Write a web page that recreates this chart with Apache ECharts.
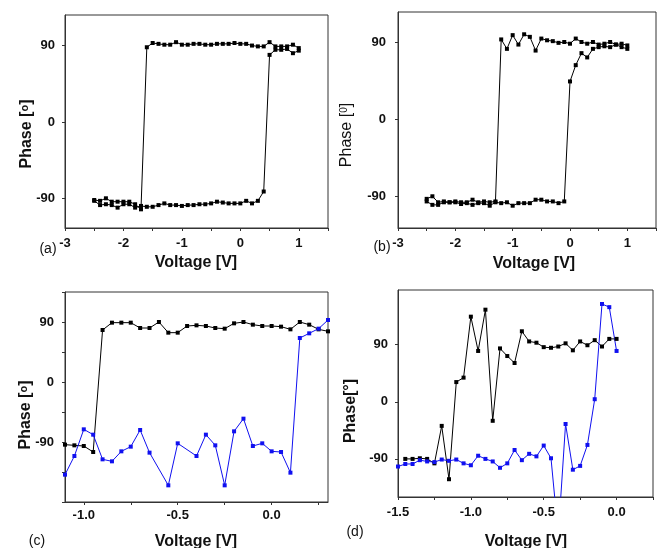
<!DOCTYPE html>
<html>
<head>
<meta charset="utf-8">
<script src="https://cdn.jsdelivr.net/npm/echarts@6/dist/echarts.min.js"></script>
<style>html,body{margin:0;padding:0;background:#fff;}#main{width:659px;height:548px;}</style>
</head>
<body>
<div id="main"></div>
<script>
// ---------- Panel (a) ----------
const voltageAscA = [-2.5,-2.4,-2.3,-2.2,-2.1,-2.0,-1.9,-1.8,-1.7,-1.6,-1.5,-1.4,-1.3,-1.2,-1.1,-1.0,-0.9,-0.8,-0.7,-0.6,-0.5,-0.4,-0.3,-0.2,-0.1,0.0,0.1,0.2,0.3,0.4,0.5,0.6,0.7,0.8,0.9,1.0];
const phaseAscA = [-93,-98,-97,-98,-101,-97,-97,-101,-99,-100,-100,-98,-96,-98,-98,-99,-98,-98,-97,-97,-96,-94,-95,-96,-96,-96,-93,-96,-93,-82,79,85,85,86,81,84];
const voltageDescA = [1.0,0.9,0.8,0.7,0.6,0.5,0.4,0.3,0.2,0.1,0.0,-0.1,-0.2,-0.3,-0.4,-0.5,-0.6,-0.7,-0.8,-0.9,-1.0,-1.1,-1.2,-1.3,-1.4,-1.5,-1.6,-1.7,-1.8,-1.9,-2.0,-2.1,-2.2,-2.3,-2.4,-2.5];
const phaseDescA = [87,91,89,89,89,94,89,89,90,92,92,93,92,92,92,91,91,92,92,91,91,94,91,91,92,93,88,-103,-97,-94,-94,-94,-94,-90,-93,-92];

// ---------- Panel (b) ----------
const voltageAscB = [-2.5,-2.4,-2.3,-2.2,-2.1,-2.0,-1.9,-1.8,-1.7,-1.6,-1.5,-1.4,-1.3,-1.2,-1.1,-1.0,-0.9,-0.8,-0.7,-0.6,-0.5,-0.4,-0.3,-0.2,-0.1,0.0,0.1,0.2,0.3,0.4,0.5,0.6,0.7,0.8,0.9,1.0];
const phaseAscB = [-96,-100,-100,-97,-97,-97,-99,-98,-100,-98,-98,-101,-97,-98,-97,-101,-98,-98,-98,-94,-94,-96,-96,-98,-96,44,63,77,72,82,84,85,84,87,84,82];
const voltageDescB = [1.0,0.9,0.8,0.7,0.6,0.5,0.4,0.3,0.2,0.1,0.0,-0.1,-0.2,-0.3,-0.4,-0.5,-0.6,-0.7,-0.8,-0.9,-1.0,-1.1,-1.2,-1.3,-1.4,-1.5,-1.6,-1.7,-1.8,-1.9,-2.0,-2.1,-2.2,-2.3,-2.4,-2.5];
const phaseDescB = [86,88,87,90,88,87,90,88,90,94,88,90,89,91,92,94,80,96,99,87,98,82,93,-96,-97,-96,-97,-94,-97,-97,-96,-97,-96,-97,-90,-93];

// ---------- Panel (c) ----------
const voltageBlackC = [-1.1,-1.05,-1.0,-0.95,-0.9,-0.85,-0.8,-0.75,-0.7,-0.65,-0.6,-0.55,-0.5,-0.45,-0.4,-0.35,-0.3,-0.25,-0.2,-0.15,-0.1,-0.05,0.0,0.05,0.1,0.15,0.2,0.25,0.3];
const phaseBlackC = [-94,-95,-96,-105,78,89,89,89,81,81,90,74,74,84,85,84,81,80,88,90,86,84,84,83,79,90,86,79,76];
const voltageBlueC = [-1.1,-1.05,-1.0,-0.95,-0.9,-0.85,-0.8,-0.75,-0.7,-0.65,-0.55,-0.5,-0.4,-0.35,-0.3,-0.25,-0.2,-0.15,-0.1,-0.05,0.0,0.05,0.1,0.15,0.2,0.25,0.3];
const phaseBlueC = [-139,-111,-71,-79,-116,-119,-104,-97,-72,-106,-155,-92,-111,-79,-95,-155,-74,-55,-96,-92,-104,-105,-136,66,73,80,93];

// ---------- Panel (d) ----------
const voltageBlackD = [-1.45,-1.4,-1.35,-1.3,-1.25,-1.2,-1.15,-1.1,-1.05,-1.0,-0.95,-0.9,-0.85,-0.8,-0.75,-0.7,-0.65,-0.6,-0.55,-0.5,-0.45,-0.4,-0.35,-0.3,-0.25,-0.2,-0.15,-0.1,-0.05,0.0];
const phaseBlackD = [-90,-90,-89,-90,-97,-38,-122,31,38,134,80,145,-30,84,72,61,111,95,93,86,85,87,92,81,95,89,97,87,99,99];
const voltageBlueD = [-1.5,-1.45,-1.4,-1.35,-1.3,-1.25,-1.2,-1.15,-1.1,-1.05,-1.0,-0.95,-0.9,-0.85,-0.8,-0.75,-0.7,-0.65,-0.6,-0.55,-0.5,-0.45,-0.4,-0.35,-0.3,-0.25,-0.2,-0.15,-0.1,-0.05,0.0];
const phaseBlueD = [-102,-98,-98,-92,-94,-95,-91,-93,-91,-97,-100,-85,-90,-94,-104,-97,-76,-92,-82,-86,-69,-89,-210,-35,-107,-101,-68,4,154,149,80];

// ---------- tick labels ----------
const phaseTicks = [-90, 0, 90];
const voltageTicksAB = [-3, -2, -1, 0, 1];
const voltageTicksCD = [-1.5, -1.0, -0.5, 0.0];

const BLACK = '#000000';
const BLUE = '#1010f0';
const FONT = 'Liberation Sans';

function zip(xs, ys) { return xs.map((x, i) => [x, ys[i]]); }

function xAxis(gi, min, max, interval, labelFmt, margin, extra) {
  return Object.assign({
    type: 'value', gridIndex: gi, min: min, max: max, interval: interval,
    axisLine: { onZero: false, lineStyle: { color: '#333', width: 1 } },
    axisTick: { show: true, inside: false, length: 3, lineStyle: { color: '#333' } },
    axisLabel: { color: '#111', fontFamily: FONT, fontWeight: 'bold', fontSize: 13, margin: margin, formatter: labelFmt, showMinLabel: true, showMaxLabel: true },
    splitLine: { show: false }
  }, extra || {});
}
function yAxis(gi, min, max, margin, extra) {
  return Object.assign({
    type: 'value', gridIndex: gi, min: min, max: max,
    axisLine: { onZero: false, lineStyle: { color: '#333', width: 1 } },
    axisTick: { show: true, inside: false, length: 3, lineStyle: { color: '#333' }, customValues: phaseTicks },
    axisLabel: { color: '#111', fontFamily: FONT, fontWeight: 'bold', fontSize: 13, margin: margin, customValues: phaseTicks, formatter: v => String(v) },
    splitLine: { show: false }
  }, extra || {});
}
function series(gi, data, color) {
  return {
    type: 'line', xAxisIndex: gi, yAxisIndex: gi, data: data,
    symbol: 'rect', symbolSize: 4, showSymbol: true, clip: true,
    lineStyle: { color: color, width: 1 }, itemStyle: { color: color },
    animation: false, silent: true
  };
}

const intFmt = v => (Math.abs(v - Math.round(v)) < 1e-9 ? String(Math.round(v)) : '');
const halfFmt = v => (Math.abs(v * 2 - Math.round(v * 2)) < 1e-9 ? v.toFixed(1) : '');

const gridBase = { show: true, borderColor: '#333', borderWidth: 1, backgroundColor: 'transparent', containLabel: false };

function title(x, y, text, rot, weight, rich) {
  return {
    type: 'text', x: x, y: y, rotation: rot || 0, silent: true,
    style: {
      text: text, fill: '#111', fontFamily: FONT, fontWeight: weight || 'bold', fontSize: 16,
      textAlign: 'center', textVerticalAlign: 'middle', rich: rich || undefined
    }
  };
}
function tag(x, y, text) {
  return { type: 'text', x: x, y: y, silent: true,
    style: { text: text, fill: '#111', fontFamily: FONT, fontSize: 14, textAlign: 'center', textVerticalAlign: 'middle' } };
}

const supO = { s: { fontSize: 11, fontWeight: 'bold', fontFamily: FONT, fill: '#111', verticalAlign: 'top' } };
const sup0 = { s: { fontSize: 10, fontWeight: 'normal', fontFamily: FONT, fill: '#111', verticalAlign: 'top' } };

const option = {
  backgroundColor: '#fff',
  animation: false,
  grid: [
    Object.assign({ left: 65, top: 15, width: 263, height: 213 }, gridBase),
    Object.assign({ left: 398, top: 12, width: 266, height: 216 }, gridBase),
    Object.assign({ left: 65, top: 292, width: 263, height: 210 }, gridBase),
    Object.assign({ left: 398, top: 290, width: 255, height: 207 }, gridBase)
  ],
  xAxis: [
    xAxis(0, -3, 1.5, 0.5, intFmt, 9),
    xAxis(1, -3, 1.5, 0.5, intFmt, 9),
    xAxis(2, -1.1, 0.3, null, v => v.toFixed(1), 7, {
      axisTick: { show: true, inside: false, length: 3, lineStyle: { color: '#333' }, customValues: [-1.0, -0.75, -0.5, -0.25, 0.0, 0.25] },
      axisLabel: { color: '#111', fontFamily: FONT, fontWeight: 'bold', fontSize: 13, margin: 7, customValues: [-1.0, -0.5, 0.0], formatter: v => v.toFixed(1) }
    }),
    xAxis(3, -1.5, 0.25, 0.25, halfFmt, 9, {
      axisLabel: { color: '#111', fontFamily: FONT, fontWeight: 'bold', fontSize: 13, margin: 9, customValues: voltageTicksCD, formatter: v => v.toFixed(1) }
    })
  ],
  yAxis: [
    yAxis(0, -125, 126, 10),
    yAxis(1, -127, 125, 12),
    yAxis(2, -180, 135, 11, {
      interval: 45,
      axisTick: { show: true, inside: false, length: 3, lineStyle: { color: '#333' } }
    }),
    yAxis(3, -150, 176, 10)
  ],
  series: [
    series(0, zip(voltageAscA, phaseAscA), BLACK),
    series(0, zip(voltageDescA, phaseDescA), BLACK),
    series(1, zip(voltageAscB, phaseAscB), BLACK),
    series(1, zip(voltageDescB, phaseDescB), BLACK),
    series(2, zip(voltageBlackC, phaseBlackC), BLACK),
    series(2, zip(voltageBlueC, phaseBlueC), BLUE),
    series(3, zip(voltageBlackD, phaseBlackD), BLACK),
    series(3, zip(voltageBlueD, phaseBlueD), BLUE)
  ],
  graphic: [
    title(196, 263, 'Voltage [V]'),
    title(534, 264, 'Voltage [V]'),
    title(196, 542, 'Voltage [V]'),
    title(526, 542, 'Voltage [V]'),
    title(27, 134, 'Phase [{s|o}]', Math.PI / 2, 'bold', supO),
    title(347, 135, 'Phase [{s|0}]', Math.PI / 2, 'normal', sup0),
    title(26, 415, 'Phase [{s|o}]', Math.PI / 2, 'bold', supO),
    title(351, 411, 'Phase[°]', Math.PI / 2, 'bold'),
    tag(48, 249, '(a)'),
    tag(382, 247, '(b)'),
    tag(37, 541, '(c)'),
    tag(355, 532, '(d)')
  ]
};

// the y axis of (c) uses interval ticks; show labels only at -90, 0, 90
option.yAxis[2].axisLabel = { color: '#111', fontFamily: FONT, fontWeight: 'bold', fontSize: 13, margin: 11,
  formatter: v => (phaseTicks.indexOf(v) >= 0 ? String(v) : '') };

const chart = echarts.init(document.getElementById('main'));
chart.setOption(option);
</script>
</body>
</html>
